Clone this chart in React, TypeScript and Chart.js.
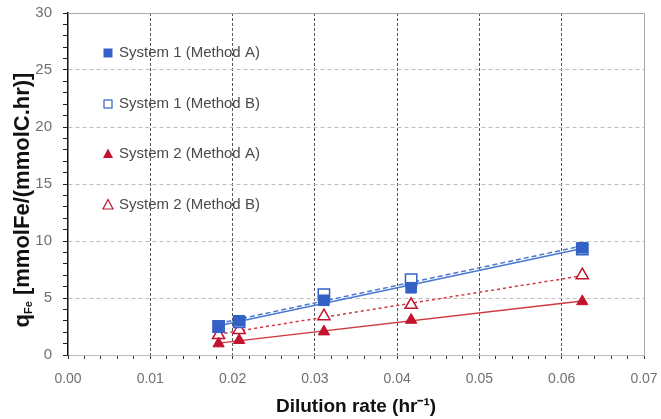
import React, { useEffect, useRef } from 'react';
import { Chart, registerables } from 'chart.js';

Chart.register(...registerables);

// ---- data ----
const dilutionRates = [0.0183, 0.0208, 0.0311, 0.0417, 0.0625];
const sys1MethodA = [2.46, 3.0, 4.8, 5.9, 9.4];
const sys1MethodB = [2.5, 2.9, 5.3, 6.6, 9.3];
const sys2MethodA = [1.0, 1.3, 2.05, 3.07, 4.7];
const sys2MethodB = [1.75, 2.2, 3.4, 4.4, 7.0];
const seriesLabels = [
  'System 1 (Method A)',
  'System 1 (Method B)',
  'System 2 (Method A)',
  'System 2 (Method B)',
];
const xTitle = 'Dilution rate (hr\u207B\u00B9)';
const yTitleMain = 'q';
const yTitleSub = 'Fe';
const yTitleRest = ' [mmolFe/(mmolC.hr)]';

const BLUE = '#3461c6';
const BLUE_LINE = '#4a78d2';
const RED = '#c3122e';
const RED_LINE = '#d0383f';
const FONT = "'Liberation Sans', Arial, sans-serif";

function fit(xs: number[], ys: number[]) {
  const n = xs.length;
  const mx = xs.reduce((a, b) => a + b, 0) / n;
  const my = ys.reduce((a, b) => a + b, 0) / n;
  let sxy = 0, sxx = 0;
  for (let i = 0; i < n; i++) {
    sxy += (xs[i] - mx) * (ys[i] - my);
    sxx += (xs[i] - mx) * (xs[i] - mx);
  }
  const m = sxy / sxx;
  const b = my - m * mx;
  const x0 = Math.min(...xs), x1 = Math.max(...xs);
  return [{ x: x0, y: m * x0 + b }, { x: x1, y: m * x1 + b }];
}

const pts = (ys: number[]) => dilutionRates.map((x, i) => ({ x, y: ys[i] }));

const extrasPlugin = {
  id: 'extras',
  afterDraw(chart: any) {
    const { ctx, chartArea } = chart;
    ctx.save();
    // top and right frame
    ctx.strokeStyle = '#a8a8a8';
    ctx.lineWidth = 1;
    ctx.beginPath();
    ctx.moveTo(chartArea.left, chartArea.top + 0.5);
    ctx.lineTo(chartArea.right + 0.5, chartArea.top + 0.5);
    ctx.lineTo(chartArea.right + 0.5, chartArea.bottom);
    ctx.stroke();

    // legend
    const lx = chartArea.left + 40;
    const ly = [chartArea.top + 40, chartArea.top + 91, chartArea.top + 141, chartArea.top + 192];
    ctx.font = `15px ${FONT}`;
    ctx.textBaseline = 'middle';
    ctx.textAlign = 'left';
    ly.forEach((y, i) => {
      ctx.lineWidth = 1.2;
      if (i === 0) {
        ctx.fillStyle = BLUE;
        ctx.fillRect(lx - 4.5, y - 4.5, 9, 9);
      } else if (i === 1) {
        ctx.strokeStyle = BLUE;
        ctx.fillStyle = '#fff';
        ctx.fillRect(lx - 4.5, y - 4.5, 9, 9);
        ctx.strokeRect(lx - 4, y - 4, 8, 8);
      } else {
        ctx.beginPath();
        ctx.moveTo(lx, y - 5.5);
        ctx.lineTo(lx + 5, y + 4);
        ctx.lineTo(lx - 5, y + 4);
        ctx.closePath();
        if (i === 2) {
          ctx.fillStyle = RED;
          ctx.fill();
        } else {
          ctx.strokeStyle = RED;
          ctx.stroke();
        }
      }
      ctx.fillStyle = '#4a4a4a';
      ctx.fillText(seriesLabels[i], lx + 11, y);
    });

    // y title with subscript
    ctx.translate(23, (chartArea.top + chartArea.bottom) / 2 + 16);
    ctx.rotate(-Math.PI / 2);
    ctx.fillStyle = '#111';
    ctx.textBaseline = 'middle';
    const big = `bold 22px ${FONT}`;
    const small = `bold 11px ${FONT}`;
    ctx.font = big;
    const w1 = ctx.measureText(yTitleMain).width;
    const w3 = ctx.measureText(yTitleRest).width;
    ctx.font = small;
    const w2 = ctx.measureText(yTitleSub).width;
    let x = -(w1 + w2 + w3) / 2;
    ctx.font = big;
    ctx.fillText(yTitleMain, x, 0);
    x += w1;
    ctx.font = small;
    ctx.fillText(yTitleSub, x, 6);
    x += w2;
    ctx.font = big;
    ctx.fillText(yTitleRest, x, 0);
    ctx.restore();
  },
};

export default function App() {
  const ref = useRef<HTMLCanvasElement | null>(null);
  useEffect(() => {
    document.body.style.margin = '0';
    if (!ref.current) return;
    const isMajorX = (v: number) => Math.abs(v * 100 - Math.round(v * 100)) < 1e-6;
    const chart = new Chart(ref.current, {
      type: 'scatter',
      data: {
        datasets: [
          {
            label: seriesLabels[0],
            data: pts(sys1MethodA),
            pointStyle: 'rect',
            pointRadius: 7.5,
            backgroundColor: BLUE,
            borderColor: BLUE,
            borderWidth: 1,
          },
          {
            label: seriesLabels[2],
            data: pts(sys2MethodA),
            pointStyle: 'triangle',
            pointRadius: 6.5,
            backgroundColor: RED,
            borderColor: RED,
            borderWidth: 1,
          },
          {
            label: seriesLabels[1],
            data: pts(sys1MethodB),
            pointStyle: 'rect',
            pointRadius: 8,
            backgroundColor: '#fff',
            borderColor: BLUE,
            borderWidth: 1.5,
          },
          {
            label: seriesLabels[3],
            data: pts(sys2MethodB),
            pointStyle: 'triangle',
            pointRadius: 7,
            backgroundColor: '#fff',
            borderColor: RED,
            borderWidth: 1.5,
          },
          {
            label: 'fit1A',
            data: fit(dilutionRates, sys1MethodA),
            showLine: true,
            pointRadius: 0,
            borderColor: BLUE_LINE,
            borderWidth: 1.5,
          },
          {
            label: 'fit1B',
            data: fit(dilutionRates, sys1MethodB),
            showLine: true,
            pointRadius: 0,
            borderColor: BLUE_LINE,
            borderWidth: 1.5,
            borderDash: [5, 3],
          },
          {
            label: 'fit2A',
            data: fit(dilutionRates, sys2MethodA),
            showLine: true,
            pointRadius: 0,
            borderColor: RED_LINE,
            borderWidth: 1.5,
          },
          {
            label: 'fit2B',
            data: fit(dilutionRates, sys2MethodB),
            showLine: true,
            pointRadius: 0,
            borderColor: RED_LINE,
            borderWidth: 1.5,
            borderDash: [3, 3],
          },
        ],
      },
      options: {
        animation: false,
        responsive: false,
        maintainAspectRatio: false,
        layout: { padding: { left: 0, right: 17, top: 13, bottom: 0 } },
        plugins: { legend: { display: false }, tooltip: { enabled: false } },
        scales: {
          x: {
            type: 'linear',
            min: 0,
            max: 0.07,
            ticks: {
              stepSize: 0.002,
              autoSkip: false,
              maxRotation: 0,
              padding: 12,
              color: '#707070',
              font: { family: FONT, size: 14 },
              callback: (v: any) => (isMajorX(Number(v)) ? Number(v).toFixed(2) : ''),
            },
            grid: {
              color: (c: any) => {
                const v = c.tick ? c.tick.value : 0;
                return isMajorX(v) && v > 0.0001 && v < 0.0699 ? '#555' : 'rgba(0,0,0,0)';
              },
              tickColor: '#333',
              tickLength: 4,
              lineWidth: 1,
            },
            border: { color: '#bbb', width: 1, dash: [3, 2] },
            title: {
              display: true,
              text: xTitle,
              color: '#111',
              font: { family: FONT, size: 19, weight: 'bold' },
              padding: { top: 0, bottom: 1 },
            },
            afterFit: (s: any) => {
              s.height = 64;
              s.paddingLeft = 0;
              s.paddingRight = 0;
            },
          },
          y: {
            type: 'linear',
            min: 0,
            max: 30,
            ticks: {
              stepSize: 1,
              autoSkip: false,
              padding: 11,
              color: '#707070',
              font: { family: FONT, size: 15 },
              callback: (v: any) => (Number(v) % 5 === 0 ? String(v) : ''),
            },
            grid: {
              color: (c: any) => {
                const v = c.tick ? c.tick.value : 0;
                return v % 5 === 0 && v > 0 && v < 30 ? '#bdbdbd' : 'rgba(0,0,0,0)';
              },
              tickColor: '#222',
              tickLength: 5,
              lineWidth: 1,
            },
            border: { color: '#111', width: 1.5, dash: [4, 3] },
            afterFit: (s: any) => {
              s.width = 68;
              s.paddingTop = 0;
              s.paddingBottom = 0;
            },
          },
        },
      },
      plugins: [extrasPlugin],
    });
    return () => chart.destroy();
  }, []);
  return <canvas ref={ref} width={661} height={419} style={{ display: 'block' }} />;
}
